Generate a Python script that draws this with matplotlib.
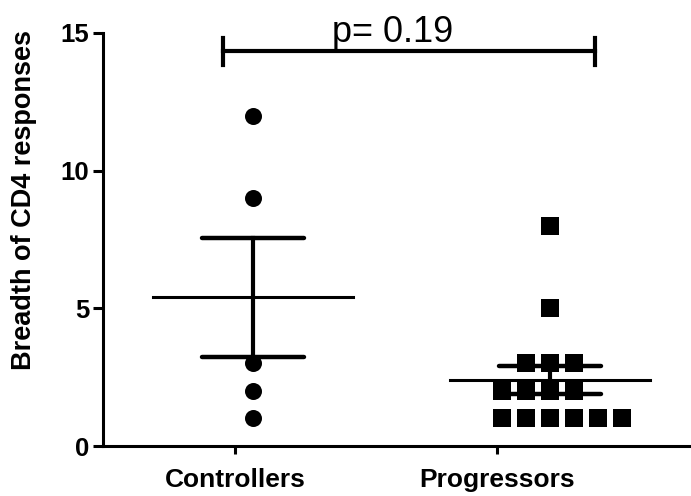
import matplotlib as mpl
mpl.use('Agg')
import matplotlib.pyplot as plt
import numpy as np

plt.rcParams['font.family'] = ['Liberation Sans', 'DejaVu Sans']

groups = ['Controllers', 'Progressors']
controllers = [12, 9, 3, 2, 1]
progressors = [8, 5, 3, 3, 3, 2, 2, 2, 2, 1, 1, 1, 1, 1, 1]
p_text = 'p= 0.19'

fig = plt.figure(figsize=(6.91, 4.96), dpi=100)
ax = fig.add_axes([103 / 691, 50 / 496, 588 / 691, 413 / 496])

# x positions: columns at 1 and 2
step = 24 / 297.0  # spacing of side-by-side points


def spread(vals):
    # place equal values side by side, like the prism scatter
    xs = np.zeros(len(vals))
    vals = np.asarray(vals)
    for v in np.unique(vals):
        idx = np.where(vals == v)[0]
        n = len(idx)
        start = -min(n // 2, 2)
        xs[idx] = (start + np.arange(n)) * step
    return xs


for i, (vals, mk) in enumerate([(controllers, 'o'), (progressors, 's')]):
    x0 = i + 1
    ax.scatter(x0 + spread(vals), vals, marker=mk, s=150, color='black',
               linewidths=0, zorder=3)
    m = np.mean(vals)
    sem = np.std(vals, ddof=1) / np.sqrt(len(vals))
    ax.plot([x0 - 0.337, x0 + 0.337], [m, m], color='black', lw=2.2, zorder=4)
    ax.plot([x0, x0], [m - sem, m + sem], color='black', lw=3, zorder=4)
    for yy in (m - sem, m + sem):
        ax.plot([x0 - 0.172, x0 + 0.172], [yy, yy], color='black', lw=3.2,
                solid_capstyle='round', zorder=4)

# significance bracket
bx0, bx1, by = 0.899, 2.152, 14.33
ax.plot([bx0, bx1], [by, by], color='black', lw=3, clip_on=False)
for bx in (bx0, bx1):
    ax.plot([bx, bx], [by - 0.5, by + 0.5], color='black', lw=3, clip_on=False)
ax.text(1.471, 14.69, p_text, ha='center', va='baseline', fontsize=26)

ax.set_xlim(1 - 150 / 297, 2 + 141 / 297)
ax.set_ylim(0, 15)
ax.set_yticks([0, 5, 10, 15])
ax.set_xticks([0.939, 1.822])
ax.set_xticklabels(groups, fontsize=19, fontweight='bold')
for lab in ax.get_yticklabels():
    lab.set_fontsize(18.5)
    lab.set_fontweight('bold')
ax.set_ylabel('Breadth of CD4 responses', fontsize=19.5, fontweight='bold')
ax.yaxis.set_label_coords(-0.112, 0.596)

for s in ['top', 'right']:
    ax.spines[s].set_visible(False)
for s in ['left', 'bottom']:
    ax.spines[s].set_linewidth(2.2)
ax.tick_params(axis='y', width=2.2, length=7, pad=3)
ax.tick_params(axis='x', width=2.2, length=6, pad=10)

plt.savefig('out.png', dpi=100)
